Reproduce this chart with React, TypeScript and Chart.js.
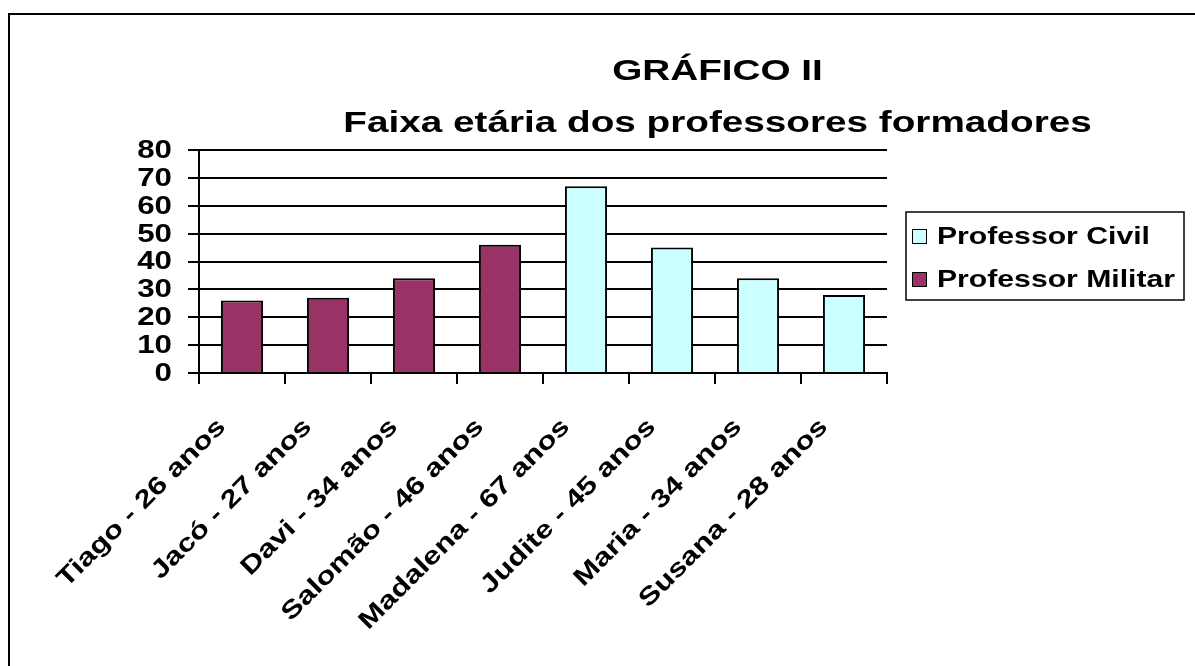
import React, { useEffect, useRef } from 'react';
import { Chart, registerables } from 'chart.js';

Chart.register(...registerables);

// ---- data ----
const categories = [
  'Tiago - 26 anos',
  'Jacó - 27 anos',
  'Davi - 34 anos',
  'Salomão - 46 anos',
  'Madalena - 67 anos',
  'Judite - 45 anos',
  'Maria - 34 anos',
  'Susana - 28 anos',
];
const civilValues = [null, null, null, null, 67, 45, 34, 28];
const militarValues = [26, 27, 34, 46, null, null, null, null];
const seriesNames = ['Professor Civil', 'Professor Militar'];
const seriesColors = ['#CCFFFF', '#993366'];
const titleLines = ['GRÁFICO II', 'Faixa etária dos professores formadores'];
const yMin = 0;
const yMax = 80;
const yStep = 10;

const FONT = '"Liberation Sans", Arial, Helvetica, sans-serif';

function stretched(ctx: CanvasRenderingContext2D, text: string, x: number, y: number, sx: number, align: CanvasTextAlign) {
  ctx.save();
  ctx.translate(x, y);
  ctx.scale(sx, 1);
  ctx.textAlign = align;
  ctx.fillText(text, 0, 0);
  ctx.restore();
}

const textPlugin = {
  id: 'stretchedText',
  afterDraw(chart: any) {
    const ctx: CanvasRenderingContext2D = chart.ctx;
    const xs = chart.scales.x;
    const ys = chart.scales.y;
    const area = chart.chartArea;
    ctx.save();
    ctx.fillStyle = '#000';

    // title
    ctx.font = `bold 30px ${FONT}`;
    ctx.textBaseline = 'alphabetic';
    stretched(ctx, titleLines[0], 717.5, 80, 1.29, 'center');
    stretched(ctx, titleLines[1], 717.5, 132, 1.29, 'center');

    // y tick labels
    ctx.font = `bold 25px ${FONT}`;
    ctx.textBaseline = 'middle';
    ys.ticks.forEach((t: any) => {
      const py = ys.getPixelForValue(t.value);
      stretched(ctx, String(t.value), area.left - 27, py + 1, 1.25, 'right');
    });

    // x tick labels (rotated 45deg)
    ctx.font = `bold 25px ${FONT}`;
    chart.data.labels.forEach((lab: string, i: number) => {
      const px = xs.getPixelForValue(i);
      ctx.save();
      ctx.translate(px - 20, area.bottom + 50);
      ctx.rotate(-Math.PI / 4);
      ctx.scale(1.25, 1);
      ctx.textAlign = 'right';
      ctx.textBaseline = 'middle';
      ctx.fillText(lab, 0, 0);
      ctx.restore();
    });

    // legend
    const bx = area.right + 19;
    const by = 212;
    const bw = 278;
    const bh = 88;
    ctx.lineWidth = 1.5;
    ctx.strokeStyle = '#000';
    ctx.strokeRect(bx, by, bw, bh);
    chart.data.datasets.forEach((ds: any, i: number) => {
      const cy = 236.5 + i * 43;
      ctx.fillStyle = ds.backgroundColor;
      ctx.fillRect(bx + 6, cy - 7.5, 15, 15);
      ctx.lineWidth = 1;
      ctx.strokeStyle = '#000';
      ctx.strokeRect(bx + 6.5, cy - 7, 14, 14);
      ctx.fillStyle = '#000';
      ctx.font = `bold 24px ${FONT}`;
      ctx.textBaseline = 'middle';
      stretched(ctx, ds.label, bx + 31, cy + 1, 1.257, 'left');
    });
    ctx.restore();
  },
};

export default function App() {
  const ref = useRef<HTMLCanvasElement | null>(null);
  useEffect(() => {
    if (!ref.current) return;
    const chart = new Chart(ref.current, {
      type: 'bar',
      data: {
        labels: categories,
        datasets: [
          {
            label: seriesNames[0],
            data: civilValues,
            backgroundColor: seriesColors[0],
            borderColor: '#000',
            borderWidth: 2,
            grouped: false,
            barPercentage: 0.49,
            categoryPercentage: 1,
          },
          {
            label: seriesNames[1],
            data: militarValues,
            backgroundColor: seriesColors[1],
            borderColor: '#000',
            borderWidth: 2,
            grouped: false,
            barPercentage: 0.49,
            categoryPercentage: 1,
          },
        ],
      } as any,
      options: {
        animation: false,
        responsive: false,
        maintainAspectRatio: false,
        devicePixelRatio: 1,
        layout: { padding: { left: 0, top: 150, right: 308, bottom: 243 } },
        plugins: {
          legend: { display: false },
          title: { display: false },
          tooltip: { enabled: false },
        },
        scales: {
          x: {
            grid: {
              drawOnChartArea: false,
              drawTicks: true,
              tickLength: 11,
              color: '#000',
              lineWidth: 2,
              offset: true,
            },
            border: { display: true, color: '#000', width: 2 },
            ticks: { display: false },
            afterFit: (s: any) => {
              s.height = 50;
            },
          },
          y: {
            min: yMin,
            max: yMax,
            ticks: { display: false, stepSize: yStep },
            grid: {
              drawOnChartArea: true,
              drawTicks: true,
              tickLength: 11,
              color: '#000',
              lineWidth: 2,
            },
            border: { display: true, color: '#000', width: 2 },
            afterFit: (s: any) => {
              s.width = 199;
            },
          },
        },
      } as any,
      plugins: [textPlugin],
    });
    return () => chart.destroy();
  }, []);

  return (
    <div style={{ position: 'fixed', left: 0, top: 0, width: 1195, height: 666, background: '#fff', overflow: 'hidden' }}>
      <div
        style={{
          position: 'absolute',
          left: 8,
          top: 13,
          width: 1300,
          height: 800,
          borderLeft: '2px solid #000',
          borderTop: '2px solid #000',
        }}
      />
      <canvas ref={ref} width={1195} height={666} style={{ position: 'absolute', left: 0, top: 0 }} />
    </div>
  );
}
